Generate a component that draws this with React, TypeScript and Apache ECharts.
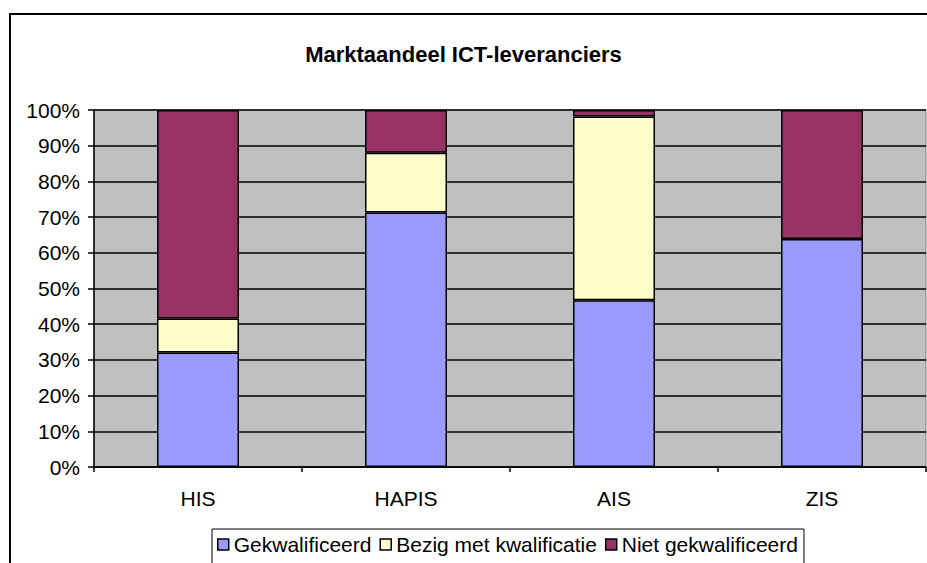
import React, { useEffect, useRef } from "react";
import * as echarts from "echarts";

const categories = ["HIS", "HAPIS", "AIS", "ZIS"];
const gekwalificeerd = [32.1, 71.3, 46.7, 63.9];
const bezig = [9.5, 16.7, 51.5, 0];
const niet = [58.4, 12.0, 1.8, 36.1];
const seriesNames = ["Gekwalificeerd", "Bezig met kwalificatie", "Niet gekwalificeerd"];
const colors = ["#9999FF", "#FFFFCC", "#993366"];

const FONT = "'Liberation Sans', Arial, sans-serif";

export default function App() {
  const ref = useRef<HTMLDivElement>(null);
  useEffect(() => {
    if (!ref.current) return;
    const chart = echarts.init(ref.current, null, { renderer: "svg" });
    const values = [gekwalificeerd, bezig, niet];
    chart.setOption({
      animation: false,
      backgroundColor: "#ffffff",
      textStyle: { fontFamily: FONT },
      title: {
        text: "Marktaandeel ICT-leveranciers",
        left: "center",
        top: 38,
        textStyle: { fontFamily: FONT, fontSize: 22, fontWeight: "bold", color: "#000" },
      },
      graphic: [
        {
          type: "rect",
          shape: { x: 10, y: 14, width: 940, height: 600 },
          style: { fill: "none", stroke: "#000", lineWidth: 2 },
          silent: true,
        },
      ],
      legend: {
        left: 212,
        top: 529,
        orient: "horizontal",
        icon: "rect",
        itemWidth: 11,
        itemHeight: 11,
        itemGap: 8,
        padding: [5, 6, 10, 5],
        borderColor: "#000",
        borderWidth: 1,
        backgroundColor: "#fff",
        itemStyle: { borderColor: "#000", borderWidth: 1.5 },
        textStyle: { fontFamily: FONT, fontSize: 21, color: "#000", padding: [0, 0, 0, 0] },
        data: seriesNames,
      },
      grid: {
        left: 94,
        top: 110,
        right: 1,
        bottom: 96,
        show: true,
        backgroundColor: "#C0C0C0",
        borderColor: "#808080",
        borderWidth: 1,
      },
      xAxis: {
        type: "category",
        data: categories,
        boundaryGap: true,
        axisLine: { show: true, lineStyle: { color: "#000", width: 1.5 } },
        axisTick: { show: true, alignWithLabel: false, length: 5, lineStyle: { color: "#000", width: 1.5 } },
        axisLabel: { fontFamily: FONT, fontSize: 21, color: "#000", margin: 21 },
        splitLine: { show: false },
      },
      yAxis: {
        type: "value",
        min: 0,
        max: 100,
        interval: 10,
        axisLine: { show: true, lineStyle: { color: "#000", width: 1.5 } },
        axisTick: { show: true, inside: false, length: 6, lineStyle: { color: "#000", width: 1.5 } },
        axisLabel: { fontFamily: FONT, fontSize: 21, color: "#000", margin: 14, formatter: "{value}%" },
        splitLine: { show: true, lineStyle: { color: "#000", width: 1.5 } },
      },
      series: seriesNames.map((name, i) => ({
        name,
        type: "bar",
        stack: "total",
        barWidth: 82,
        data: values[i],
        itemStyle: { color: colors[i], borderColor: "#000", borderWidth: 1.5 },
      })),
    });
    return () => chart.dispose();
  }, []);
  return (
    <div
      ref={ref}
      style={{ position: "fixed", left: 0, top: 0, width: 927, height: 563 }}
    />
  );
}
